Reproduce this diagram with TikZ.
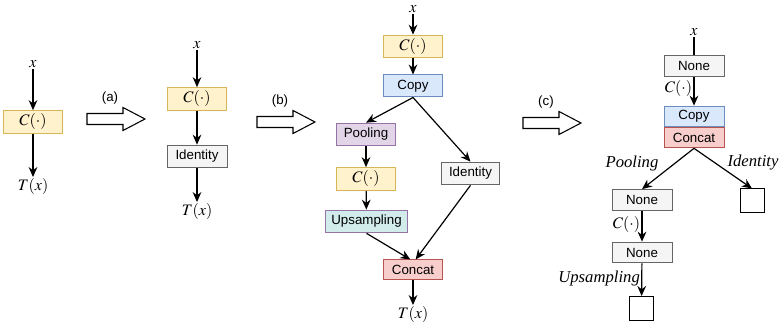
\documentclass[tikz,border=0pt]{standalone}
\usepackage{mathptmx}
\usepackage{fontspec}
\setmainfont{Liberation Serif}
\setsansfont{Liberation Sans}
\usetikzlibrary{arrows.meta}

\definecolor{cfill}{HTML}{FFF2CC}
\definecolor{cline}{HTML}{D6B656}
\definecolor{copyfill}{HTML}{DAE8FC}
\definecolor{copyline}{HTML}{6C8EBF}
\definecolor{poolfill}{HTML}{E1D5E7}
\definecolor{poolline}{HTML}{9673A6}
\definecolor{upfill}{HTML}{D2ECEC}
\definecolor{grayfill}{HTML}{F5F5F5}
\definecolor{grayline}{HTML}{666666}
\definecolor{catfill}{HTML}{F8CECC}
\definecolor{catline}{HTML}{B85450}

\begin{document}
\begin{tikzpicture}[
  x=0.75pt, y=-0.75pt,
  >={Stealth[length=7.5pt,width=6.5pt]},
  line width=0.9pt,
  box/.style={draw, line width=0.75pt, inner sep=0pt, minimum width=44pt, minimum height=17pt,
    font=\sffamily\fontsize{10}{11}\selectfont},
  cbox/.style={box, fill=cfill, draw=cline, font=\fontsize{12}{13}\selectfont},
  copybox/.style={box, fill=copyfill, draw=copyline},
  poolbox/.style={box, fill=poolfill, draw=poolline},
  upbox/.style={box, fill=upfill, draw=poolline, minimum width=61pt},
  idbox/.style={box, fill=grayfill, draw=grayline},
  catbox/.style={box, fill=catfill, draw=catline},
  nonebox/.style={box, fill=grayfill, draw=grayline, minimum width=45pt, minimum height=15.5pt},
  sqbox/.style={draw, line width=0.75pt, fill=white, minimum size=18pt, inner sep=0pt},
  lbl/.style={inner sep=1pt, font=\fontsize{12}{13}\selectfont},
  edgelbl/.style={inner sep=1pt, font=\fontsize{12.5}{13}\itshape}
]
\useasboundingbox (0,0) rectangle (782,331);

% --- Hollow block arrow: start x, centre y, label ---
\newcommand{\BigArrow}[3]{%
  \draw[line width=0.8pt] (#1,#2-5.5) -- (#1+36,#2-5.5) -- (#1+36,#2-11.5)
    -- (#1+58,#2) -- (#1+36,#2+11.5) -- (#1+36,#2+5.5) -- (#1,#2+5.5) -- cycle;
  \node[font=\sffamily\fontsize{10}{11}\selectfont] at (#1+23,#2-21) {#3};
}

% --- Single operation ---
\node[lbl] (x1) at (33,64) {$x$};
\node[cbox] (c1) at (33,122) {$C(\cdot)$};
\node[lbl] (t1) at (33,187) {$T(x)$};
\draw[->] (x1) -- (c1);
\draw[->] (c1) -- (t1);

\BigArrow{87}{119}{(a)}

% --- Operation followed by identity ---
\node[lbl] (x2) at (197,45) {$x$};
\node[cbox] (c2) at (197,99) {$C(\cdot)$};
\node[idbox, minimum width=45pt] (id2) at (197,156.5) {Identity};
\node[lbl] (t2) at (197,212) {$T(x)$};
\draw[->] (x2) -- (c2);
\draw[->] (c2) -- (id2);
\draw[->] (id2) -- (t2);

\BigArrow{257}{122}{(b)}

% --- Two branches joined by concat ---
\node[lbl] (x3) at (413,9) {$x$};
\node[cbox] (c3) at (413,46.5) {$C(\cdot)$};
\node[copybox, minimum height=16.5pt] (copy3) at (413,86) {Copy};
\node[poolbox] (pool3) at (366,134.5) {Pooling};
\node[cbox] (c3b) at (366,179) {$C(\cdot)$};
\node[upbox] (up3) at (366.5,221.5) {Upsampling};
\node[idbox, minimum width=43pt] (id3) at (470.5,173.5) {Identity};
\node[catbox, minimum height=15pt] (cat3) at (413,270) {Concat};
\node[lbl] (t3) at (413,315) {$T(x)$};
\draw[->] (x3) -- (c3);
\draw[->] (c3) -- (copy3);
\draw[->] (copy3.south) -- (pool3.north);
\draw[->] (copy3.south) -- (id3.north);
\draw[->] (pool3) -- (c3b);
\draw[->] (c3b) -- (up3);
\draw[->] (up3.south) -- ([xshift=-2pt]cat3.north);
\draw[->] (id3.south) -- ([xshift=2pt]cat3.north);
\draw[->] (cat3) -- (t3);

\BigArrow{523}{123}{(c)}

% --- Search space as a tree ---
\node[lbl] (x4) at (694,32) {$x$};
\node[nonebox] (none4a) at (694,66) {None};
\node[copybox, minimum width=45pt, minimum height=15.5pt] (copy4) at (694,116.5) {Copy};
\node[catbox, minimum width=45pt, minimum height=15pt, anchor=north] (cat4) at (copy4.south) {Concat};
\node[nonebox] (none4b) at (642,200) {None};
\node[sqbox] (sq4a) at (752,201) {};
\node[nonebox] (none4c) at (642,252.5) {None};
\node[sqbox] (sq4b) at (641.5,308.5) {};
\draw (x4) -- (none4a);
\draw[->] (none4a) -- node[lbl, left, pos=0.4] {$C(\cdot)$} (copy4);
\draw[->] (cat4.south) -- (none4b.north);
\draw[->] (cat4.south) -- (sq4a.north);
\node[edgelbl] at (632,163) {Pooling};
\node[edgelbl] at (753,163) {Identity};
\draw[->] (none4b) -- node[lbl, left, pos=0.45] {$C(\cdot)$} (none4c);
\draw[->] (none4c) -- node[edgelbl, left, pos=0.45] {Upsampling} (sq4b);

\end{tikzpicture}
\end{document}
